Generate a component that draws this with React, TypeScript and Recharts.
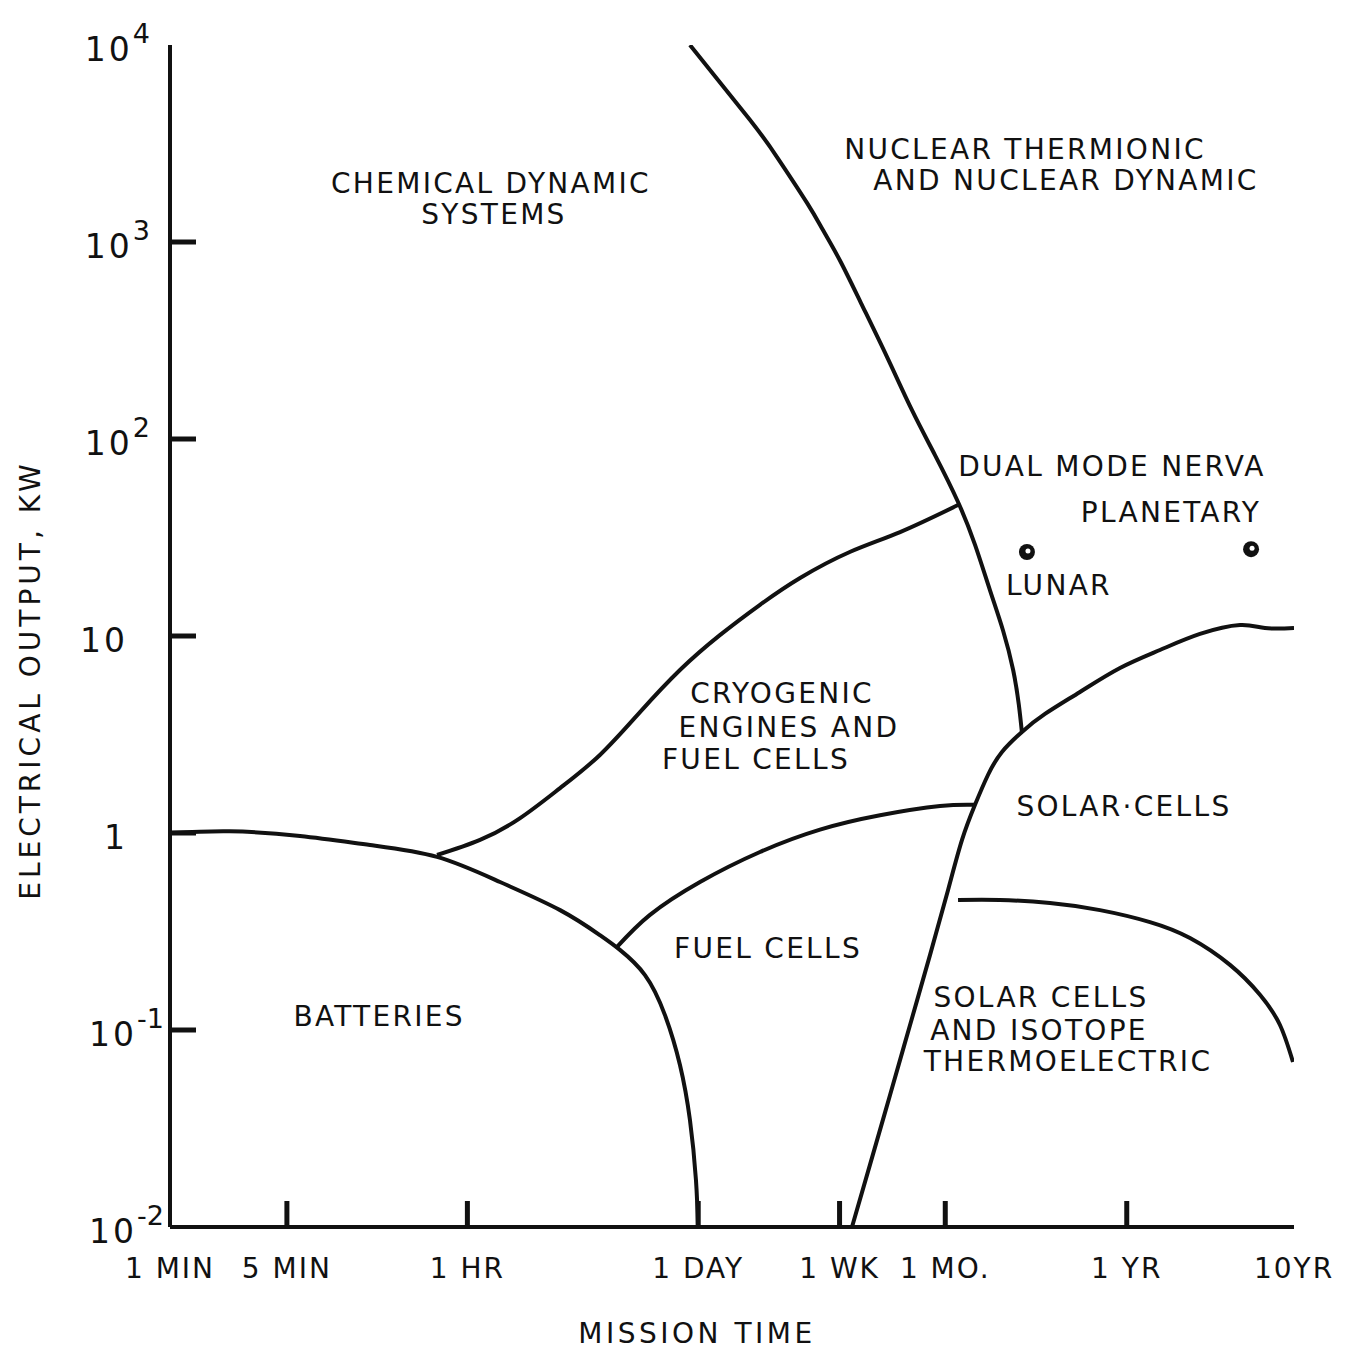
import React from 'react';
import { ComposedChart, Line, XAxis, YAxis, Scatter, ReferenceDot, Customized } from 'recharts';

// Mission time in minutes, electrical output in kW
const xTicks = [1, 5, 60, 1440, 10080, 43200, 525600, 5256000];
const xTickLabels = ['1 MIN', '5 MIN', '1 HR', '1 DAY', '1 WK', '1 MO.', '1 YR', '10YR'];
const yTicks = [0.01, 0.1, 1, 10, 100, 1000, 10000];
const yTickBases = ['10', '10', '1', '10', '10', '10', '10'];
const yTickExps = ['-2', '-1', '', '', '2', '3', '4'];

const chemicalNuclearBoundary = [
  { x: 1285, y: 10000 }, { x: 2940, y: 4160 }, { x: 4260, y: 2700 }, { x: 6440, y: 1580 },
  { x: 8020, y: 1150 }, { x: 10100, y: 810 }, { x: 13540, y: 490 }, { x: 19370, y: 261 },
  { x: 27320, y: 140 }, { x: 37500, y: 82.9 }, { x: 51500, y: 47.9 }, { x: 65100, y: 29.0 },
  { x: 79900, y: 17.1 }, { x: 95600, y: 10.7 }, { x: 110000, y: 6.72 }, { x: 119000, y: 4.46 },
  { x: 124000, y: 3.26 },
];

const cryogenicBoundary = [
  { x: 39.5, y: 0.773 }, { x: 71.4, y: 0.922 }, { x: 124, y: 1.19 }, { x: 215, y: 1.69 },
  { x: 372, y: 2.49 }, { x: 646, y: 4.11 }, { x: 1120, y: 6.72 }, { x: 1940, y: 10.1 },
  { x: 3370, y: 14.4 }, { x: 5850, y: 19.7 }, { x: 11600, y: 26.7 }, { x: 23200, y: 33.7 },
  { x: 51500, y: 46.2 },
];

const batteryBoundary = [
  { x: 1, y: 1.0 }, { x: 2.28, y: 1.02 }, { x: 5.99, y: 0.966 }, { x: 15.7, y: 0.869 },
  { x: 39.5, y: 0.756 }, { x: 94, y: 0.564 }, { x: 215, y: 0.406 }, { x: 372, y: 0.303 },
  { x: 490, y: 0.255 }, { x: 692, y: 0.19 }, { x: 911, y: 0.119 }, { x: 1120, y: 0.0664 },
  { x: 1285, y: 0.0349 }, { x: 1396, y: 0.0173 }, { x: 1435, y: 0.01 },
];

const fuelCellBoundary = [
  { x: 471, y: 0.264 }, { x: 741, y: 0.384 }, { x: 1476, y: 0.564 }, { x: 3370, y: 0.801 },
  { x: 7700, y: 1.04 }, { x: 17600, y: 1.23 }, { x: 40200, y: 1.37 }, { x: 65050, y: 1.39 },
];

const solarBoundary = [
  { x: 11960, y: 0.01 }, { x: 15300, y: 0.0206 }, { x: 20200, y: 0.0468 }, { x: 26600, y: 0.106 },
  { x: 35000, y: 0.24 }, { x: 44900, y: 0.514 }, { x: 54400, y: 0.922 }, { x: 65050, y: 1.39 },
  { x: 77770, y: 1.97 }, { x: 94300, y: 2.58 }, { x: 124200, y: 3.26 }, { x: 170500, y: 4.02 },
  { x: 276100, y: 5.2 }, { x: 479000, y: 6.88 }, { x: 830000, y: 8.49 }, { x: 1440000, y: 10.24 },
  { x: 2500000, y: 11.37 }, { x: 3525000, y: 10.98 }, { x: 5256000, y: 10.98 },
];

const isotopeBoundary = [
  { x: 51500, y: 0.457 }, { x: 91750, y: 0.457 }, { x: 182600, y: 0.441 }, { x: 363500, y: 0.406 },
  { x: 723600, y: 0.353 }, { x: 1255000, y: 0.293 }, { x: 2177000, y: 0.214 }, { x: 3290000, y: 0.151 },
  { x: 4333000, y: 0.106 }, { x: 5182000, y: 0.0688 },
];

const nervaPoints = [
  { x: 133000, y: 26.7 },
  { x: 2910000, y: 27.6 },
];

const regionLabels = [
  { text: 'CHEMICAL DYNAMIC', x: 83.0, y: 1990 },
  { text: 'SYSTEMS', x: 86.5, y: 1387 },
  { text: 'NUCLEAR THERMIONIC', x: 129500, y: 2966 },
  { text: 'AND NUCLEAR DYNAMIC', x: 227700, y: 2064 },
  { text: 'DUAL MODE NERVA', x: 428900, y: 72.9 },
  { text: 'PLANETARY', x: 966200, y: 42.6 },
  { text: 'LUNAR', x: 206800, y: 18.2 },
  { text: 'CRYOGENIC', x: 4562, y: 5.14 },
  { text: 'ENGINES AND', x: 5023, y: 3.45 },
  { text: 'FUEL CELLS', x: 3189, y: 2.37 },
  { text: 'SOLAR·CELLS', x: 505800, y: 1.37 },
  { text: 'FUEL CELLS', x: 3763, y: 0.261 },
  { text: 'BATTERIES', x: 17.8, y: 0.118 },
  { text: 'SOLAR CELLS', x: 161400, y: 0.147 },
  { text: 'AND ISOTOPE', x: 157000, y: 0.1 },
  { text: 'THERMOELECTRIC', x: 234000, y: 0.0696 },
];

const INK = '#111';
const FONT = '"DejaVu Sans", sans-serif';
const TICK_LEN = 26;

const isInterior = (v: number, arr: number[]) => v !== arr[0] && v !== arr[arr.length - 1];

const BottomTick = (props: any) => {
  const { x, y, payload } = props;
  const i = xTicks.indexOf(payload.value);
  return (
    <g>
      {isInterior(payload.value, xTicks) && (
        <line x1={x} x2={x} y1={y} y2={y - TICK_LEN} stroke={INK} strokeWidth={5} />
      )}
      <text x={x} y={y + 51} textAnchor="middle" fontSize={28} fontFamily={FONT} letterSpacing={2} fill={INK}>
        {xTickLabels[i]}
      </text>
    </g>
  );
};

const TopTick = (props: any) => {
  const { x, y, payload } = props;
  if (!isInterior(payload.value, xTicks)) return <g />;
  return <line x1={x} x2={x} y1={y} y2={y + TICK_LEN} stroke={INK} strokeWidth={5} />;
};

const LeftTick = (props: any) => {
  const { x, y, payload } = props;
  const i = yTicks.indexOf(payload.value);
  const base = yTickBases[i];
  const exp = yTickExps[i];
  const endX = exp === '' ? x - 42 : exp.startsWith('-') ? x - 6 : x - 20;
  return (
    <g>
      {isInterior(payload.value, yTicks) && (
        <line x1={x} x2={x + TICK_LEN} y1={y} y2={y} stroke={INK} strokeWidth={5} />
      )}
      <text x={endX} y={y + 16} textAnchor="end" fontSize={33} fontFamily={FONT} letterSpacing={3} fill={INK}>
        <tspan>{base}</tspan>
        {exp !== '' && (
          <tspan dy={-18} fontSize={27} letterSpacing={0}>{exp}</tspan>
        )}
      </text>
    </g>
  );
};

const RightTick = (props: any) => {
  const { x, y, payload } = props;
  if (!isInterior(payload.value, yTicks) || payload.value === 10) return <g />;
  return <line x1={x} x2={x - TICK_LEN} y1={y} y2={y} stroke={INK} strokeWidth={5} />;
};

const Titles = () => (
  <g fontFamily={FONT} fill={INK}>
    <text x={697} y={1343} textAnchor="middle" fontSize={28} letterSpacing={3.5}>MISSION TIME</text>
    <text
      x={40}
      y={680}
      textAnchor="middle"
      fontSize={28}
      letterSpacing={4}
      transform="rotate(-90 40 680)"
    >
      ELECTRICAL OUTPUT, KW
    </text>
  </g>
);

const boundaries = [
  chemicalNuclearBoundary,
  cryogenicBoundary,
  batteryBoundary,
  fuelCellBoundary,
  solarBoundary,
  isotopeBoundary,
];

export default function App() {
  return (
    <div style={{ position: 'absolute', left: 0, top: 0, background: '#fff' }}>
      <ComposedChart
        width={1363}
        height={1353}
        margin={{ top: 45, right: 69, bottom: 0, left: 0 }}
      >
        <XAxis
          xAxisId={0}
          dataKey="x"
          type="number"
          scale="log"
          domain={[1, 5256000]}
          allowDataOverflow
          ticks={xTicks}
          interval={0}
          height={126}
          tickSize={0}
          tickMargin={0}
          tickLine={false}
          tick={(p: any) => <BottomTick {...p} />}
          axisLine={{ stroke: INK, strokeWidth: 4 }}
        />
        <XAxis
          xAxisId="top"
          orientation="top"
          dataKey="x"
          type="number"
          scale="log"
          domain={[1, 5256000]}
          allowDataOverflow
          ticks={xTicks}
          interval={0}
          height={0}
          tickSize={0}
          tickMargin={0}
          tickLine={false}
          tick={(p: any) => <TopTick {...p} />}
          axisLine={{ stroke: INK, strokeWidth: 4 }}
        />
        <YAxis
          yAxisId={0}
          type="number"
          scale="log"
          domain={[0.01, 10000]}
          allowDataOverflow
          ticks={yTicks}
          interval={0}
          width={170}
          tickSize={0}
          tickMargin={0}
          tickLine={false}
          tick={(p: any) => <LeftTick {...p} />}
          axisLine={{ stroke: INK, strokeWidth: 4 }}
        />
        <YAxis
          yAxisId="right"
          orientation="right"
          type="number"
          scale="log"
          domain={[0.01, 10000]}
          allowDataOverflow
          ticks={yTicks}
          interval={0}
          width={0}
          tickSize={0}
          tickMargin={0}
          tickLine={false}
          tick={(p: any) => <RightTick {...p} />}
          axisLine={{ stroke: INK, strokeWidth: 3 }}
        />
        {boundaries.map((d, i) => (
          <Line
            key={i}
            data={d}
            dataKey="y"
            type="natural"
            dot={false}
            activeDot={false}
            stroke={INK}
            strokeWidth={4}
            isAnimationActive={false}
          />
        ))}
        <Scatter
          data={nervaPoints}
          dataKey="y"
          isAnimationActive={false}
          shape={(p: any) => (
            <g>
              <circle cx={p.cx} cy={p.cy} r={8} fill={INK} />
              <circle cx={p.cx + 1} cy={p.cy - 1} r={2.5} fill="#fff" />
            </g>
          )}
        />
        {regionLabels.map((l, i) => (
          <ReferenceDot
            key={i}
            x={l.x}
            y={l.y}
            r={0}
            ifOverflow="visible"
            shape={(p: any) => (
              <text
                x={p.cx}
                y={p.cy + 10}
                textAnchor="middle"
                fontSize={28}
                fontFamily={FONT}
                letterSpacing={2.3}
                fill={INK}
              >
                {l.text}
              </text>
            )}
          />
        ))}
        <Customized component={Titles} />
      </ComposedChart>
    </div>
  );
}
